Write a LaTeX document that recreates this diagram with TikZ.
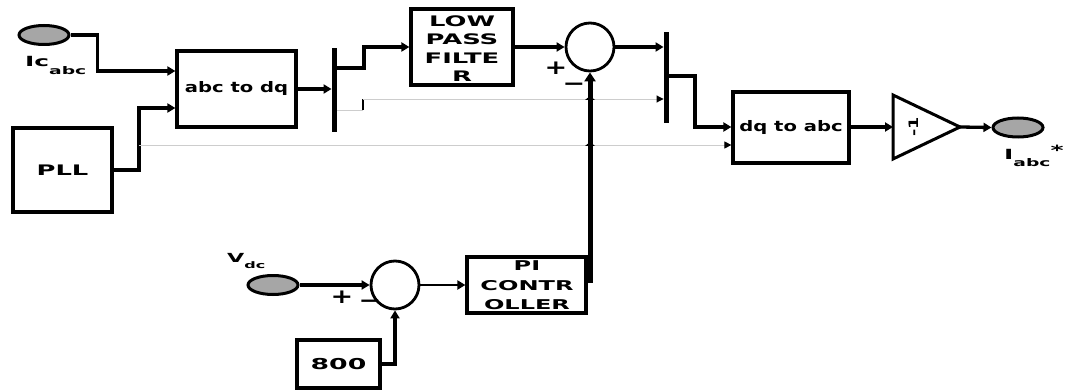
\documentclass[tikz,border=0pt]{standalone}
\usepackage{fontspec}
\newfontfamily\fa{DejaVu Sans}[FakeStretch=1.35]
\newfontfamily\fb{DejaVu Sans}[FakeStretch=1.78]
\usetikzlibrary{arrows.meta,shapes.geometric}
\definecolor{portgray}{RGB}{166,166,166}
\definecolor{linegray}{RGB}{205,205,205}
\begin{document}
\begin{tikzpicture}[x=1pt,y=-1pt,
 blk/.style={draw,line width=3.2pt,fill=white,inner sep=0pt,align=center},
 txt/.style={inner sep=0pt,align=center},
 port/.style={ellipse,draw,line width=3pt,fill=portgray,inner sep=0pt,minimum width=50pt,minimum height=19pt},
 sig/.style={line width=3.3pt,-{Triangle[length=8pt,width=9pt]}},
 gsig/.style={line width=0.9pt,draw=linegray,-{Triangle[length=7pt,width=7pt,color=black]}},
 sumc/.style={circle,draw,line width=2.8pt,minimum size=48pt,inner sep=0pt},
 barn/.style={fill=black,inner sep=0pt,minimum width=5.5pt},
 lowt/.style={font=\fa\bfseries\fontsize{14.5}{16}\selectfont},
 upt/.style={font=\fb\bfseries\fontsize{14.5}{18.5}\selectfont},
 pm/.style={font=\fa\bfseries\fontsize{20}{20}\selectfont,inner sep=0pt},
]
\useasboundingbox (0,0) rectangle (1067,390);

% nodes
\node[port] (ic) at (44,35) {};
\node[anchor=base west,inner sep=0pt] (iclbl) at (25,67) {\fb\bfseries\fontsize{14}{14}\selectfont Ic\raisebox{-8pt}{\fontsize{10.5}{10.5}\selectfont abc}};
\node[blk,lowt,minimum width=119pt,minimum height=76pt] (abcdq) at (236.5,89) {abc to dq};
\node[blk,upt,minimum width=99pt,minimum height=84pt] (pll) at (62.5,170) {PLL};
\node[barn,minimum height=84pt] (dmx) at (334.5,90) {};
\node[blk,minimum width=102pt,minimum height=76pt] (lpf) at (462,47) {};
\node[txt,upt] (lpft) at (462,48.5) {LOW\\PASS\\FILTE\\R};
\node[sumc] (s1) at (590,47) {};
\node[barn,minimum height=91pt] (mx) at (666.5,77.5) {};
\node[blk,lowt,minimum width=116pt,minimum height=71pt] (dqabc) at (791,127.5) {dq to abc};
\draw[line width=3pt,line join=miter] (893,95) -- (960,127) -- (893,159) -- cycle;
\coordinate (gin) at (893,127);
\coordinate (gout) at (960,127);
\node[rotate=90,font=\fa\bfseries\fontsize{13}{13}\selectfont,inner sep=0pt] (gain) at (914,127) {-1};
\node[port] (iabc) at (1018,127.5) {};
\node[anchor=base west,inner sep=0pt] (iabclbl) at (1004,160) {\fb\bfseries\fontsize{14}{14}\selectfont I\raisebox{-7pt}{\fontsize{10.5}{10.5}\selectfont abc}\raisebox{4pt}{*}};

\node[port] (vdc) at (273,285) {};
\node[anchor=base west,inner sep=0pt] (vdclbl) at (227,262) {\fb\bfseries\fontsize{12.5}{12.5}\selectfont V\raisebox{-6pt}{\fontsize{9}{9}\selectfont dc}};
\node[sumc] (s2) at (395,285) {};
\node[blk,minimum width=83pt,minimum height=48pt,font=\fb\bfseries\fontsize{15}{15}\selectfont] (c800) at (338.5,364) {800};
\node[blk,minimum width=119pt,minimum height=56pt] (pi) at (526.5,285) {};
\node[txt,font=\fb\bfseries\fontsize{13.5}{19.5}\selectfont] (pit) at (527,285.5) {PI\\CONTR\\OLLER};

% signs
\node[pm] (p1) at (556,68) {+};
\node[pm] (m1) at (574,87) {\char"2212};
\node[pm] (p2) at (342,297) {+};
\node[pm] (m2) at (370,304) {\char"2212};

% connectors
\draw[sig] (ic.east) -- ++(27,0) |- (abcdq.west |- 0,71);
\draw[sig] (pll.east) -- ++(25.5,0) |- (abcdq.west |- 0,108);
\coordinate (gp) at (139,145);
\draw[gsig] (gp) -- (dqabc.west |- gp);
\draw[sig] (abcdq.east) -- (abcdq.east -| dmx.west);
\draw[sig] (dmx.east |- 0,68) -- (364,68) |- (lpf.west);
\draw[linegray,line width=0.9pt] (dmx.east |- 0,110) -- (363,110);
\draw[line width=1.5pt] (363,110) -- (363,99);
\draw[gsig] (363,99) -- (mx.west |- 0,99);
\draw[sig] (lpf.east) -- (s1.west);
\draw[sig] (s1.east) -- (s1.east -| mx.west);
\draw[sig] (mx.east |- 0,76) -- (695,76) |- (dqabc.west |- 0,127);
\draw[sig] (dqabc.east |- gin) -- (gin);
\draw[sig] (gout) -- (iabc.west);
\draw[sig] (vdc.east) -- (s2.west);
\draw[sig,line width=3.6pt] (c800.east) -| (s2.south);
\draw[line width=2pt,-{Triangle[length=8pt,width=9pt]}] (s2.east) -- (s2.east -| pi.west);
\draw[line width=5pt,-{Triangle[length=9pt,width=11pt]}] (s1.south |- 0,283) -- (s1.south);
\fill (585,100) -- (595,100) -- (590,96) -- cycle;
\fill (585,146) -- (595,146) -- (590,142) -- cycle;
\end{tikzpicture}
\end{document}
